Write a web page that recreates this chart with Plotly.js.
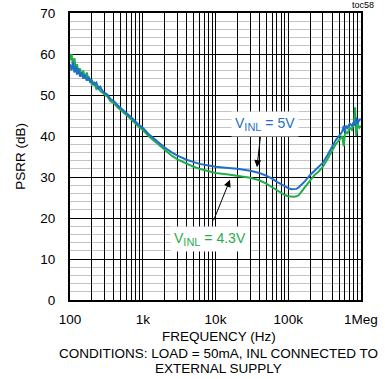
<!DOCTYPE html>
<html><head><meta charset="utf-8">
<script src="https://cdn.plot.ly/plotly-3.0.1.min.js"></script>
<style>html,body{margin:0;padding:0;background:#fff;}#chart{width:385px;height:379px;}</style>
</head><body><div id="chart"></div>
<script>
const freq = [100,105,110,115,120,125,130,137,145,152,160,170,180,190,200,215,230,245,260,280,300,330,360,400,450,500,600,700,850,1000,1200,1500,2000,2500,3000,4000,5000,6000,8000,10000,15000,20000,30000,40000,50000,60000,70000,80000,90000,100000,110000,120000,130000,140000,150000,170000,200000,230000,260000,300000,350000,400000,450000,500000,550000,580000,600000,620000,650000,700000,750000,800000,830000,860000,900000,950000,1000000];
const psrr5V = [57.5,56,58,55.5,57,55,56.5,54.5,55.5,54,55,53.5,54.5,53,53.5,52.5,53,51.5,52,51,50.5,50,49,48.5,47.5,46.8,45.5,44.5,43,42,40.5,39,37.2,36,35.2,34.2,33.6,33.2,32.8,32.5,32.2,32,31.5,31,30.3,29.6,28.8,28.2,27.6,27.3,27,27,27.1,27.5,28,29,30.5,31.5,32.3,33.5,35.5,37.5,39,40,41,42.5,41,42.5,42,43,42.5,43.5,42.5,44.5,43,44,44];
const psrr43V = [58.5,60,57,59,56,57.5,55.5,56.5,54.5,56,54,55.5,53.5,54,52.5,53,51.5,52,51,50.5,50,49.5,48.5,48,47,46.3,45,44,42.5,41.5,40,38.5,36.5,35.2,34.3,33.2,32.5,32,31.4,31,30.6,30.3,29.8,29.2,28.4,27.5,26.7,26,25.6,25.3,25.2,25.2,25.3,25.6,26.3,27.6,29.3,30.5,31.3,32.5,34.5,36.5,38,39,40,37.5,40.5,41,40.5,42,41.5,43,47,40,43,42,42.5];
const xTickVals = [100,200,300,400,500,600,700,800,900,1000,2000,3000,4000,5000,6000,7000,8000,9000,10000,20000,30000,40000,50000,60000,70000,80000,90000,100000,200000,300000,400000,500000,600000,700000,800000,900000,1000000];
const xTickText = xTickVals.map(v => ({100:'100',1000:'1k',10000:'10k',100000:'100k',1000000:'1Meg'})[v] || '');
const yTickVals = [0,10,20,30,40,50,60,70];

const blue = '#1f6fc6', green = '#1fae4a';
const font = {family: 'Liberation Sans, Arial, sans-serif', size: 13, color: '#000'};
const tfont = {family: font.family, size: 13.5, color: '#000'};

const traces = [
  {x: freq, y: psrr43V, type: 'scatter', mode: 'lines', line: {color: green, width: 2}, hoverinfo: 'skip'},
  {x: freq, y: psrr5V, type: 'scatter', mode: 'lines', line: {color: blue, width: 2}, hoverinfo: 'skip'}
];

const layout = {
  width: 385, height: 379,
  margin: {l: 70, r: 24, t: 13, b: 79},
  paper_bgcolor: '#fff', plot_bgcolor: '#fff',
  showlegend: false,
  font: font,
  xaxis: {
    type: 'log', range: [2, 6],
    tickmode: 'array', tickvals: xTickVals, ticktext: xTickText,
    showgrid: true, gridcolor: '#000', gridwidth: 1,
    showline: true, linecolor: '#000', linewidth: 2, mirror: true,
    ticks: '', ticklabelstandoff: 6, zeroline: false,
    tickfont: tfont
  },
  yaxis: {
    range: [0, 70], tickmode: 'array', tickvals: yTickVals,
    showgrid: true, gridcolor: '#000', gridwidth: 1,
    minor: {dtick: 2, tick0: 0, showgrid: true, gridcolor: '#c4c4c4', gridwidth: 1},
    showline: true, linecolor: '#000', linewidth: 2, mirror: true,
    ticks: '', ticklabelstandoff: 10, zeroline: false,
    tickfont: tfont,
    title: {text: 'PSRR (dB)', font: tfont, standoff: 12}
  },
  annotations: [
    {xref: 'paper', yref: 'paper', x: 1.05, y: 1.0, yshift: 1, xanchor: 'right', yanchor: 'bottom',
     text: 'toc58', showarrow: false, font: {family: font.family, size: 9, color: '#000'}},
    {xref: 'paper', yref: 'paper', x: 0.512, y: 0, yshift: -36, xanchor: 'center', yanchor: 'middle',
     text: 'FREQUENCY (Hz)', showarrow: false, font: tfont},
    {xref: 'paper', yref: 'paper', x: 0.512, y: 0, yshift: -53, xanchor: 'center', yanchor: 'middle',
     text: 'CONDITIONS: LOAD = 50mA, INL CONNECTED TO', showarrow: false, font: tfont},
    {xref: 'paper', yref: 'paper', x: 0.512, y: 0, yshift: -68, xanchor: 'center', yanchor: 'middle',
     text: 'EXTERNAL SUPPLY', showarrow: false, font: tfont},
    {x: 4.57, y: 32.4, ax: 4, ay: -35, text: '', showarrow: true, arrowhead: 2, arrowsize: 1.4, arrowwidth: 1, arrowcolor: '#000'},
    {x: 4.199, y: 29.3, ax: -17, ay: 42, text: '', showarrow: true, arrowhead: 2, arrowsize: 1.4, arrowwidth: 1, arrowcolor: '#000'},
    {x: 4.68, y: 42.9, text: 'V<sub><span style="font-size:11px">INL</span></sub> = 5V', showarrow: false, bgcolor: '#fff', borderpad: 3,
     font: {family: font.family, size: 14, color: blue}},
    {x: 3.924, y: 14.9, text: 'V<sub><span style="font-size:11px">INL</span></sub> = 4.3V', showarrow: false, bgcolor: '#fff', borderpad: 3,
     font: {family: font.family, size: 14, color: green}}
  ]
};

Plotly.newPlot('chart', traces, layout, {displayModeBar: false, staticPlot: true});
</script>
</body></html>
